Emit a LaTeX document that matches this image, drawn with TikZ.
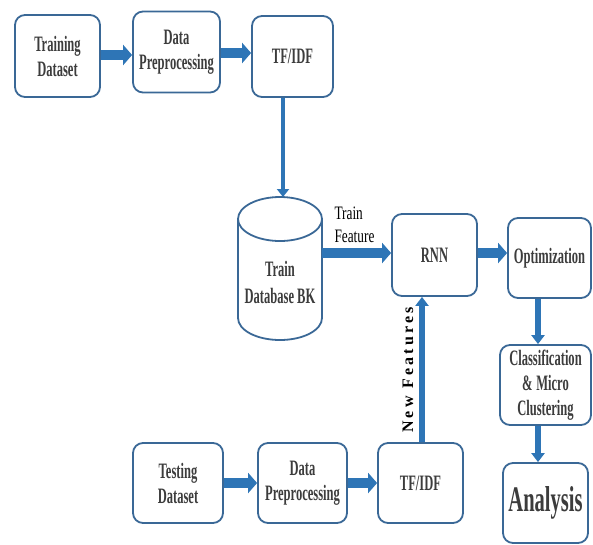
\documentclass[tikz,border=0pt]{standalone}
\usepackage{fontspec}
\setmainfont{Liberation Serif}
\newfontfamily\cond[FakeStretch=0.57]{Liberation Serif}
\newfontfamily\condlabel[FakeStretch=0.7]{Liberation Serif}
\newfontfamily\spaced[LetterSpace=20]{Liberation Serif}
\usetikzlibrary{arrows.meta}
\definecolor{boxblue}{RGB}{58,104,150}
\definecolor{arrblue}{RGB}{46,117,182}
\definecolor{txtgray}{RGB}{60,60,60}
\tikzset{
  box/.style={draw=boxblue, line width=1.8pt, rounded corners=10pt, align=center,
    text=txtgray, inner sep=0pt, font=\cond\bfseries\fontsize{22}{25}\selectfont},
  harrow/.style={draw=arrblue, line width=10pt, -{Triangle[length=9pt,width=20pt]}},
  varrow/.style={draw=arrblue, line width=6pt, -{Triangle[length=9pt,width=13pt]}},
  thinarrow/.style={draw=arrblue, line width=4.5pt, -{Triangle[length=8pt,width=12pt]}},
}
\begin{document}
\begin{tikzpicture}[x=1pt,y=-1pt]
\useasboundingbox (0,0) rectangle (593,544);
% top row
\node[box, minimum width=85pt, minimum height=82pt] (td1) at (57.5,56) {Training\\Dataset};
\node[box, minimum width=87pt, minimum height=81pt] (dp1) at (176.5,52) {Data\\Preprocessing};
\node[box, minimum width=81pt, minimum height=81pt] (tf1) at (292.5,56.5) {TF/IDF};
% database cylinder
\draw[boxblue, line width=1.8pt] (280,219) ellipse [x radius=42, y radius=22];
\draw[boxblue, line width=1.8pt] (238,219) -- (238,318)
  .. controls (238,330.2) and (256.8,340) .. (280,340)
  .. controls (303.2,340) and (322,330.2) .. (322,318) -- (322,219);
\node[align=center, text=txtgray, font=\cond\bfseries\fontsize{22}{27}\selectfont] (db) at (280,282) {Train\\Database BK};
\coordinate (dbtop) at (283,197);
\coordinate (dbright) at (322,253);
% middle row
\node[box, minimum width=85pt, minimum height=82pt] (rnn) at (434.5,255) {RNN};
\node[box, minimum width=83pt, minimum height=80pt] (opt) at (549.5,258) {Optimization};
\node[box, minimum width=91pt, minimum height=80pt] (cls) at (545.5,385) {Classification\\\&\,Micro\\Clustering};
\node[box, minimum width=85pt, minimum height=80pt, font=\cond\bfseries\fontsize{36}{40}\selectfont] (ana) at (545.5,503) {Analysis};
% bottom row
\node[box, minimum width=90pt, minimum height=80pt] (td2) at (178,483) {Testing\\Dataset};
\node[box, minimum width=89pt, minimum height=80pt] (dp2) at (302.5,483) {Data\\Preprocessing};
\node[box, minimum width=85pt, minimum height=80pt] (tf2) at (420.5,483) {TF/IDF};
% labels
\node[align=left, font=\condlabel\fontsize{19}{23}\selectfont, anchor=west] (tflab) at (331,225) {Train\\Feature};
\node[rotate=90, font=\spaced\bfseries\fontsize{16}{18}\selectfont] (nflab) at (408,370) {New Features};
% arrows
\draw[harrow] (td1.east |- 0,55) -- (dp1.west |- 0,55);
\draw[harrow] (dp1.east |- 0,53) -- (tf1.west |- 0,53);
\draw[thinarrow] (tf1.south -| dbtop) -- (dbtop);
\draw[harrow] (dbright) -- (dbright -| rnn.west);
\draw[harrow] (rnn.east |- 0,253) -- (opt.west |- 0,253);
\draw[varrow] (opt.south -| 538,0) -- (cls.north -| 538,0);
\draw[varrow] (cls.south -| 538,0) -- (ana.north -| 538,0);
\draw[harrow] (td2.east) -- (dp2.west);
\draw[harrow] (dp2.east) -- (tf2.west);
\draw[varrow] (tf2.north -| 422,0) -- (rnn.south -| 422,0);
\end{tikzpicture}
\end{document}
